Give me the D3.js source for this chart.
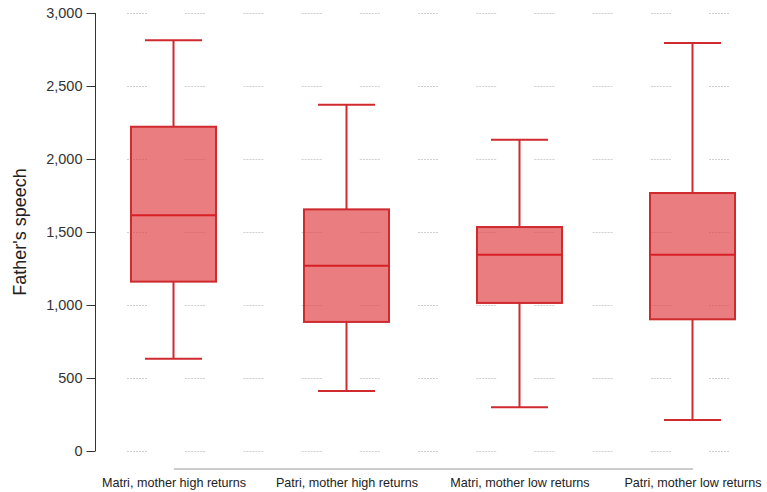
<!DOCTYPE html>
<html lang="en">
<head>
    <meta charset="UTF-8">
    <title>Father's speech</title>
    <script src="https://d3js.org/d3.v7.min.js"></script>
    <style>
        body { margin: 0; background: #fff; }
        svg { font-family: "Liberation Sans", Arial, sans-serif; }
        .y-axis path, .y-axis line { stroke: #333; }
        .y-axis text { font-size: 14.5px; fill: #333; }
        .x-axis path { stroke: #999; }
        .x-axis text { font-size: 12.6px; fill: #222; }
        .grid line { stroke: #cfcfcf; stroke-width: 1; stroke-dasharray: 2 1 2 1 2 1 2 1 2 1 2 1 2 38.2; }
    </style>
</head>
<body>
<div id="chart"></div>
<script>
    // data
    const groups = ["Matri, mother high returns", "Patri, mother high returns", "Matri, mother low returns", "Patri, mother low returns"];
    const whiskerHigh = [2813, 2372, 2132, 2795];
    const q3 = [2221, 1655, 1534, 1767];
    const median = [1614, 1269, 1345, 1345];
    const q1 = [1160, 884, 1014, 902];
    const whiskerLow = [632, 411, 299, 212];
    const yTicks = [0, 500, 1000, 1500, 2000, 2500, 3000];

    const W = 767, H = 492;
    const boxes = groups.map((g, i) => ({
        group: g, hi: whiskerHigh[i], q3: q3[i], med: median[i], q1: q1[i], lo: whiskerLow[i]
    }));

    const svg = d3.select("#chart").append("svg")
        .attr("width", W)
        .attr("height", H);

    const x = d3.scalePoint().domain(groups).range([173.5, 692.5]);
    const y = d3.scaleLinear().domain([0, 3000]).range([451, 13]);

    // dashed grid
    svg.append("g").attr("class", "grid")
        .selectAll("line")
        .data(yTicks)
        .enter().append("line")
        .attr("x1", 127).attr("x2", W)
        .attr("y1", d => Math.round(y(d)) + 0.5)
        .attr("y2", d => Math.round(y(d)) + 0.5);

    // y axis
    svg.append("g")
        .attr("class", "y-axis")
        .attr("transform", "translate(95.5,0)")
        .call(d3.axisLeft(y).tickValues(yTicks).tickFormat(d3.format(",")).tickSize(9).tickSizeOuter(0).tickPadding(4))
        .call(g => g.select(".domain").attr("d", `M0,${y(3000)}V${y(0)}`));

    svg.append("text")
        .attr("transform", `translate(26,${y(1500)}) rotate(-90)`)
        .attr("text-anchor", "middle")
        .attr("font-size", "18px")
        .attr("fill", "#222")
        .text("Father's speech");

    // x axis
    svg.append("g")
        .attr("class", "x-axis")
        .attr("transform", "translate(0,468.5)")
        .call(d3.axisBottom(x).tickSize(0).tickPadding(10))
        .call(g => g.selectAll(".tick line").remove());

    const boxW = 85, capW = 57;
    const stroke = "#cf2a2e";

    const bx = svg.append("g").selectAll("g")
        .data(boxes)
        .enter().append("g");

    // whiskers
    bx.append("line")
        .attr("x1", d => x(d.group)).attr("x2", d => x(d.group))
        .attr("y1", d => y(d.hi)).attr("y2", d => y(d.q3))
        .attr("stroke", stroke).attr("stroke-width", 2);
    bx.append("line")
        .attr("x1", d => x(d.group)).attr("x2", d => x(d.group))
        .attr("y1", d => y(d.q1)).attr("y2", d => y(d.lo))
        .attr("stroke", stroke).attr("stroke-width", 2);
    bx.append("line")
        .attr("x1", d => x(d.group) - capW / 2).attr("x2", d => x(d.group) + capW / 2)
        .attr("y1", d => y(d.hi)).attr("y2", d => y(d.hi))
        .attr("stroke", stroke).attr("stroke-width", 2);
    bx.append("line")
        .attr("x1", d => x(d.group) - capW / 2).attr("x2", d => x(d.group) + capW / 2)
        .attr("y1", d => y(d.lo)).attr("y2", d => y(d.lo))
        .attr("stroke", stroke).attr("stroke-width", 2);

    // boxes
    bx.append("rect")
        .attr("x", d => x(d.group) - boxW / 2)
        .attr("width", boxW)
        .attr("y", d => y(d.q3))
        .attr("height", d => y(d.q1) - y(d.q3))
        .attr("fill", "rgba(224, 70, 72, 0.7)")
        .attr("stroke", stroke)
        .attr("stroke-width", 2);

    // medians
    bx.append("line")
        .attr("x1", d => x(d.group) - boxW / 2).attr("x2", d => x(d.group) + boxW / 2)
        .attr("y1", d => y(d.med)).attr("y2", d => y(d.med))
        .attr("stroke", "#d81f26").attr("stroke-width", 2);
</script>
</body>
</html>
